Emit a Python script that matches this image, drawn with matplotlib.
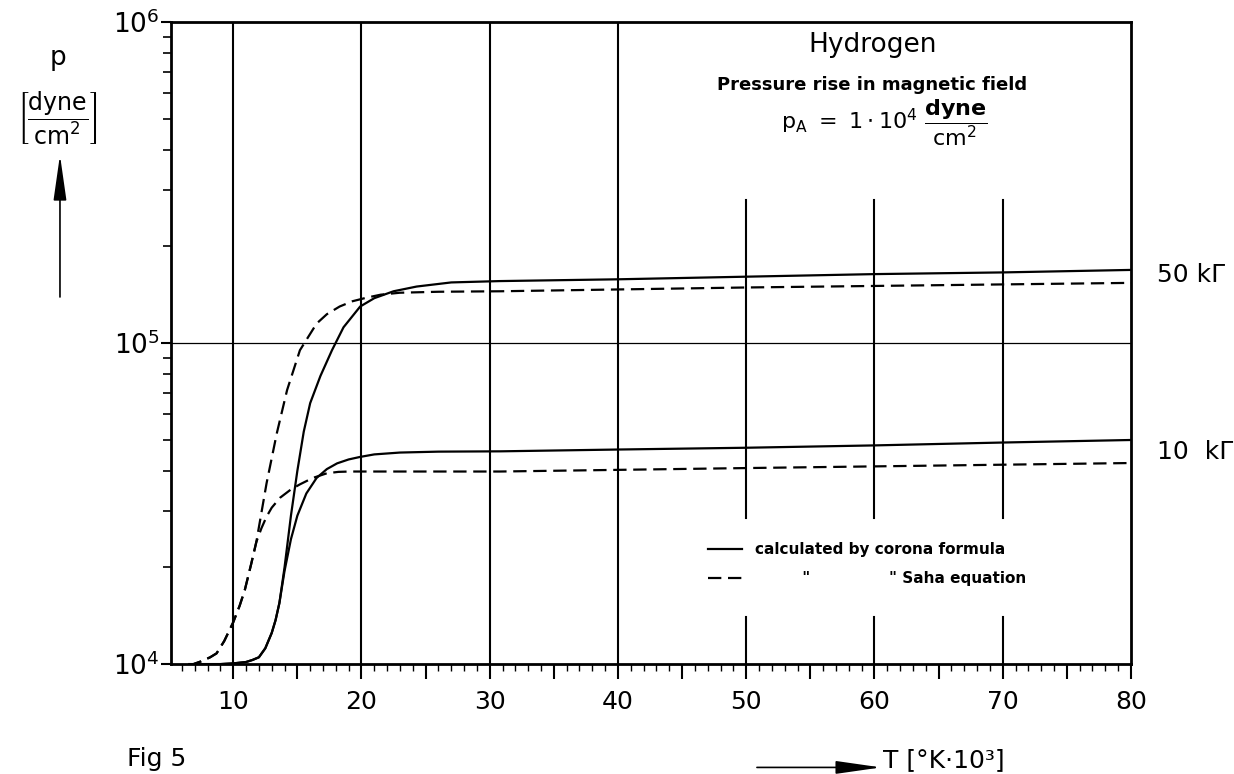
import numpy as np
import matplotlib
matplotlib.use("Agg")
import matplotlib.pyplot as plt
from matplotlib.patches import FancyArrowPatch

plt.rcParams['font.family'] = ['DejaVu Sans']
plt.rcParams['mathtext.fontset'] = 'dejavusans'

# 50 kGauss, corona formula (solid)
t_corona_50 = [7.0, 9.0, 10.0, 11.0, 11.5, 12.0, 12.5, 13.0, 13.3, 13.6, 14.0, 14.5, 15.0,
               15.5, 16.0, 16.8, 17.7, 18.6, 19.9, 21.0, 22.5, 24.3, 27.0, 30.8, 40, 50,
               60, 70, 80]
p_corona_50 = [1.0e4, 1.0e4, 1.005e4, 1.015e4, 1.03e4, 1.05e4, 1.12e4, 1.25e4, 1.37e4,
               1.55e4, 2.0e4, 2.9e4, 4.0e4, 5.3e4, 6.5e4, 7.9e4, 9.5e4, 1.12e5, 1.30e5,
               1.38e5, 1.45e5, 1.50e5, 1.545e5, 1.56e5, 1.58e5, 1.61e5, 1.64e5, 1.66e5,
               1.69e5]
# 10 kGauss, corona formula (solid)
t_corona_10 = [7.0, 9.0, 10.0, 11.0, 11.5, 12.0, 12.5, 13.0, 13.3, 13.6, 14.0, 14.5, 15.0,
               15.7, 16.5, 17.3, 18.1, 19.0, 19.9, 21.0, 23.0, 26.0, 30.8, 40, 50, 60, 70,
               80]
p_corona_10 = [1.0e4, 1.0e4, 1.005e4, 1.015e4, 1.03e4, 1.05e4, 1.12e4, 1.25e4, 1.37e4,
               1.55e4, 1.95e4, 2.45e4, 2.9e4, 3.4e4, 3.8e4, 4.05e4, 4.22e4, 4.34e4,
               4.42e4, 4.5e4, 4.56e4, 4.59e4, 4.6e4, 4.66e4, 4.72e4, 4.8e4, 4.9e4, 4.99e4]
# 50 kGauss, Saha equation (dashed)
t_saha_50 = [6.5, 6.9, 7.5, 8.2, 8.7, 9.3, 10.0, 10.5, 10.9, 11.4, 11.8, 12.6, 13.4, 14.2,
             15.2, 16.5, 17.3, 18.3, 19.3, 20.4, 21.5, 23.0, 26.0, 30.8, 50, 80]
p_saha_50 = [1.0e4, 1.0e4, 1.02e4, 1.05e4, 1.08e4, 1.18e4, 1.35e4, 1.52e4, 1.7e4, 2.05e4,
             2.4e4, 3.66e4, 5.24e4, 7.14e4, 9.5e4, 1.15e5, 1.23e5, 1.30e5, 1.35e5,
             1.385e5, 1.415e5, 1.435e5, 1.445e5, 1.45e5, 1.49e5, 1.54e5]
# 10 kGauss, Saha equation (dashed)
t_saha_10 = [6.5, 6.9, 7.5, 8.2, 8.7, 9.3, 10.0, 10.5, 10.9, 11.4, 11.8, 12.2, 12.6, 13.0,
             13.66, 14.5, 15.2, 16.2, 17.3, 18.2, 19.1, 30.8, 50, 80]
p_saha_10 = [1.0e4, 1.0e4, 1.02e4, 1.05e4, 1.08e4, 1.18e4, 1.35e4, 1.52e4, 1.7e4, 2.05e4,
             2.4e4, 2.65e4, 2.88e4, 3.07e4, 3.3e4, 3.5e4, 3.63e4, 3.8e4, 3.93e4, 3.97e4,
             3.98e4, 3.98e4, 4.08e4, 4.23e4]

t_ticks = list(range(10, 85, 5))
t_labels = [str(t) if t % 10 == 0 else '' for t in t_ticks]
full_grid = [10, 20, 30, 40]
part_grid = [50, 60, 70]

fig = plt.figure(figsize=(12.34, 7.74), dpi=100)
ax = fig.add_axes([0.1386, 0.142, 0.7779, 0.8295])

ax.set_yscale('log')
ax.set_xlim(5.15, 80)
ax.set_ylim(1e4, 1e6)

for t in full_grid:
    ax.axvline(t, color='black', lw=1.5)
for t in part_grid:
    ax.axvline(t, ymin=0.227, ymax=0.723, color='black', lw=1.5)
    ax.axvline(t, ymin=0.0, ymax=0.073, color='black', lw=1.5)
ax.axhline(1e5, color='black', lw=0.9)

dash = (6, 3)
l1, = ax.plot(t_corona_50, p_corona_50, color='black', lw=1.6)
ax.plot(t_corona_10, p_corona_10, color='black', lw=1.6)
l2, = ax.plot(t_saha_50, p_saha_50, color='black', lw=1.6, dashes=dash)
ax.plot(t_saha_10, p_saha_10, color='black', lw=1.6, dashes=dash)

for s in ax.spines.values():
    s.set_linewidth(2)

ax.set_xticks(t_ticks)
ax.set_xticklabels(t_labels)
ax.set_xticks(np.arange(6, 81, 1), minor=True)
ax.tick_params(axis='x', which='major', direction='out', length=11, width=1.5,
               labelsize=18, pad=8)
ax.tick_params(axis='x', which='minor', direction='out', length=5, width=1)
ax.tick_params(axis='y', which='major', direction='out', length=7, width=1.5,
               labelsize=19, pad=1)
ax.tick_params(axis='y', which='minor', direction='out', length=6, width=1.2)
ax.tick_params(top=False, right=False, which='both')

leg = ax.legend([l1, l2], ['calculated by corona formula',
                           '         "               " Saha equation'],
                loc='lower left', bbox_to_anchor=(0.545, 0.10), frameon=False,
                handlelength=2.2, handletextpad=0.9, labelspacing=0.9,
                prop={'size': 11, 'weight': 'bold'})

fig.text(0.7075, 0.9419, 'Hydrogen', fontsize=19, ha='center', va='center')
fig.text(0.7066, 0.890, 'Pressure rise in magnetic field', fontsize=13,
         fontweight='bold', ha='center', va='center')
fig.text(0.717, 0.842,
         r'$\mathrm{p}_\mathrm{A}\ =\ 1\cdot10^4\ \dfrac{\mathbf{dyne}}{\mathrm{cm}^2}$',
         fontsize=16, ha='center', va='center')
fig.text(0.9376, 0.6447, '50 k\u0393', fontsize=18, ha='left', va='center')
fig.text(0.9376, 0.416, '10  k\u0393', fontsize=18, ha='left', va='center')

fig.text(0.047, 0.925, 'p', fontsize=19, ha='center', va='center')
fig.text(0.046, 0.8475, r'$\left[\dfrac{\mathrm{dyne}}{\mathrm{cm}^2}\right]$',
         fontsize=17, ha='center', va='center')
fig.add_artist(FancyArrowPatch((0.0486, 0.6163), (0.0486, 0.7997),
                               transform=fig.transFigure, color='black', lw=1.2,
                               arrowstyle='-|>,head_length=1.4,head_width=0.2',
                               mutation_scale=20, shrinkA=0, shrinkB=0))
fig.add_artist(FancyArrowPatch((0.6134, 0.0085), (0.714, 0.0085),
                               transform=fig.transFigure, color='black', lw=1.2,
                               arrowstyle='-|>,head_length=1.4,head_width=0.2',
                               mutation_scale=20, shrinkA=0, shrinkB=0))
fig.text(0.7155, 0.018, 'T [°K·10³]', fontsize=18, ha='left', va='center')
fig.text(0.103, 0.004, 'Fig 5', fontsize=18, ha='left', va='bottom')

fig.savefig('out.png', dpi=100)
